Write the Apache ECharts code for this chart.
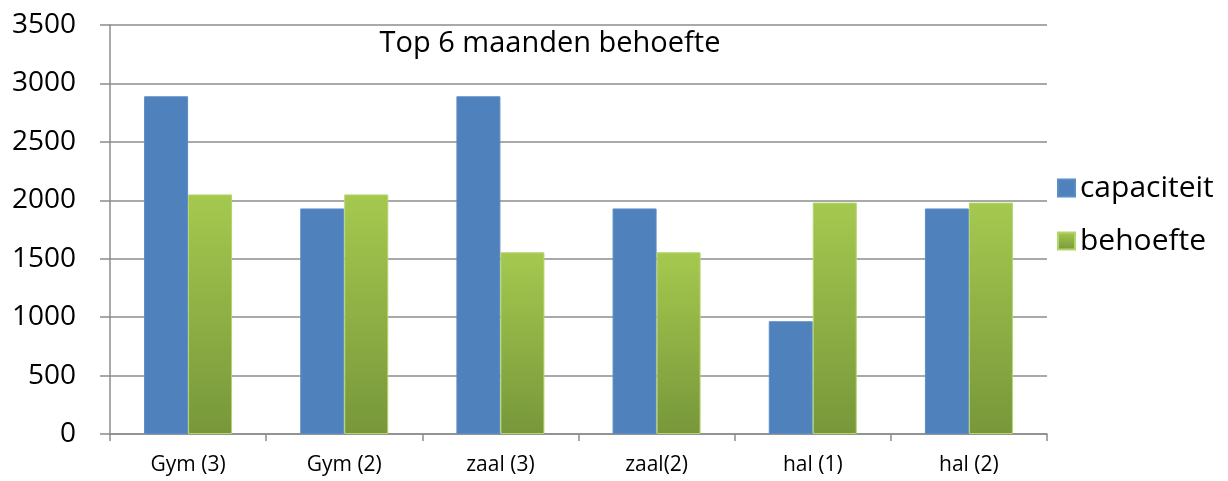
<!DOCTYPE html>
<html>
<head>
<meta charset="utf-8">
<script src="https://cdn.jsdelivr.net/npm/echarts@6/dist/echarts.min.js"></script>
<style>
  html, body { margin: 0; padding: 0; background: #fff; }
  #chart { width: 1228px; height: 481px; }
</style>
</head>
<body>
<div id="chart"></div>
<script>
const categories = ["Gym (3)", "Gym (2)", "zaal (3)", "zaal(2)", "hal (1)", "hal (2)"];
const capaciteit = [2890, 1930, 2890, 1930, 965, 1930];
const behoefte = [2050, 2050, 1555, 1555, 1980, 1980];
const yTicks = [0, 500, 1000, 1500, 2000, 2500, 3000, 3500];

const font = "'Open Sans', 'Noto Sans', sans-serif";
const gray = "#8c8c8c";

const chart = echarts.init(document.getElementById("chart"));
chart.setOption({
  animation: false,
  textStyle: { fontFamily: font, color: "#000" },
  title: {
    text: "Top 6 maanden behoefte",
    left: 545,
    top: 24,
    textAlign: "center",
    textStyle: { fontFamily: font, fontSize: 29, fontWeight: "normal", color: "#000" }
  },
  legend: {
    orient: "vertical",
    left: 1052,
    top: 168,
    icon: "rect",
    itemWidth: 17,
    itemHeight: 17,
    itemGap: 23,
    textStyle: { fontFamily: font, fontSize: 30, color: "#000", padding: [0, 0, 0, 0] },
    data: ["capaciteit", "behoefte"]
  },
  grid: { left: 110, right: 181, top: 25, bottom: 47 },
  xAxis: {
    type: "category",
    data: categories,
    axisLine: { lineStyle: { color: gray, width: 1.5 } },
    axisTick: { show: true, length: 7, lineStyle: { color: gray, width: 1.5 } },
    axisLabel: { fontFamily: font, fontSize: 21, color: "#000", margin: 21 }
  },
  yAxis: {
    type: "value",
    min: yTicks[0],
    max: yTicks[yTicks.length - 1],
    interval: 500,
    axisLine: { show: true, lineStyle: { color: gray, width: 1.5 } },
    axisTick: { show: true, length: 10, lineStyle: { color: gray, width: 1.5 } },
    axisLabel: {
      fontFamily: font, fontSize: 28, color: "#000", margin: 34,
      formatter: function (v) { return String(v); }
    },
    splitLine: { lineStyle: { color: gray, width: 1.5 } }
  },
  series: [
    {
      name: "capaciteit",
      type: "bar",
      data: capaciteit,
      barWidth: 44,
      barGap: "0%",
      itemStyle: { color: "#4f81bd", borderColor: "#5b8cc6", borderWidth: 1 }
    },
    {
      name: "behoefte",
      type: "bar",
      data: behoefte,
      barWidth: 44,
      barGap: "0%",
      itemStyle: {
        color: new echarts.graphic.LinearGradient(0, 0, 0, 1, [
          { offset: 0, color: "#a5c94f" },
          { offset: 1, color: "#77973a" }
        ]),
        borderColor: "#b4d56c",
        borderWidth: 1
      }
    }
  ]
});
</script>
</body>
</html>
